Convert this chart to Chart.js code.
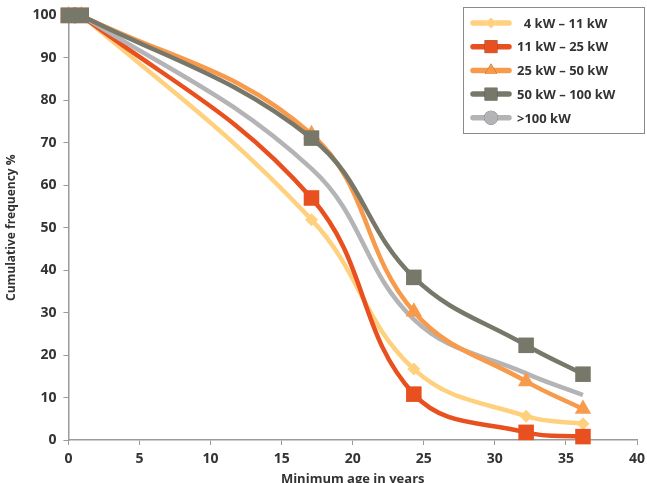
<!DOCTYPE html>
<html>
<head>
<meta charset="utf-8">
<script src="https://cdn.jsdelivr.net/npm/chart.js@4"></script>
<style>
  html, body { margin: 0; padding: 0; background: #fff; overflow: hidden; }
  #wrap { width: 650px; height: 486px; }
</style>
</head>
<body>
<div id="wrap"><canvas id="chart"></canvas></div>
<script>
const ages = [0, 0.9, 17.1, 24.3, 32.2, 36.2];
const seriesLabels = ['  4 kW – 11 kW', '11 kW – 25 kW', '25 kW – 50 kW', '50 kW – 100 kW', '>100 kW'];
const kw4to11 = [100, 100, 51.9, 16.7, 5.6, 3.8];
const kw11to25 = [100, 100, 57.0, 10.8, 1.8, 0.8];
const kw25to50 = [100, 100, 72.0, 30.2, 13.8, 7.3];
const kw50to100 = [100, 100, 71.1, 38.3, 22.3, 15.5];
const kwOver100 = [100, 100, 63.9, 28.4, 15.7, 10.6];
const xTicks = [0, 5, 10, 15, 20, 25, 30, 35, 40];
const yTicks = [0, 10, 20, 30, 40, 50, 60, 70, 80, 90, 100];

const colors = ['#ffd17f', '#e9501f', '#f89a4c', '#78786a', '#b4b4b7'];
const styles = ['rectRot', 'rect', 'triangle', 'rect', 'circle'];
const radii = [6.5, 11, 9.5, 11, 0];
const orders = [5, 4, 2, 1, 3];
const values = [kw4to11, kw11to25, kw25to50, kw50to100, kwOver100];

const datasets = values.map((vals, i) => ({
  label: seriesLabels[i],
  data: ages.map((a, j) => ({ x: a, y: vals[j] })),
  borderColor: colors[i],
  backgroundColor: colors[i],
  borderWidth: 4.5,
  pointStyle: styles[i],
  pointRadius: radii[i],
  pointBorderWidth: 0,
  pointHoverRadius: radii[i],
  tension: 0.4,
  order: orders[i],
  clip: false
}));

// legend drawn as a framed box with line + marker swatches
const boxLegend = {
  id: 'boxLegend',
  afterDraw(chart) {
    const ctx = chart.ctx;
    const left = 463, top = 7, w = 181, h = 126;
    ctx.save();
    ctx.fillStyle = '#fff';
    ctx.fillRect(left, top, w, h);
    ctx.strokeStyle = '#8a8a8a';
    ctx.lineWidth = 1;
    ctx.strokeRect(left + 0.5, top + 0.5, w, h);
    chart.data.datasets.forEach((ds, i) => {
      const y = 23 + i * 23.7;
      ctx.strokeStyle = ds.borderColor;
      ctx.lineWidth = 5.5;
      ctx.lineCap = 'round';
      ctx.beginPath();
      ctx.moveTo(473, y);
      ctx.lineTo(509, y);
      ctx.stroke();
      const r = [5.5, 9, 7, 9, 7][i];
      Chart.helpers.drawPoint(ctx, {
        pointStyle: ds.pointStyle, radius: r, borderWidth: 0, rotation: 0
      }, 491, y);
      ctx.fillStyle = ds.backgroundColor;
      ctx.fill();
      ctx.fillStyle = '#333';
      ctx.font = 'bold 13px "Open Sans"';
      ctx.textBaseline = 'middle';
      ctx.fillText(ds.label, 517, y + 1);
    });
    ctx.restore();
  }
};

new Chart(document.getElementById('chart'), {
  type: 'line',
  data: { datasets },
  options: {
    animation: false,
    responsive: true,
    maintainAspectRatio: false,
    layout: { padding: { top: 6, right: 0, left: 0, bottom: 0 } },
    plugins: {
      legend: { display: false },
      tooltip: { enabled: false }
    },
    scales: {
      x: {
        type: 'linear',
        min: 0, max: 40,
        afterBuildTicks: (axis) => { axis.ticks = xTicks.map(v => ({ value: v })); },
        afterFit: (axis) => { axis.paddingRight = 13; },
        grid: { drawOnChartArea: false, drawTicks: true, tickLength: 5, color: '#9a9a9a' },
        border: { color: '#9a9a9a', width: 1.5 },
        ticks: { color: '#333', font: { family: 'Open Sans', weight: 'bold', size: 14, lineHeight: 1 }, padding: 7, maxRotation: 0 },
        title: { display: true, text: 'Minimum age in years', color: '#333', font: { family: 'Open Sans', weight: 'bold', size: 13, lineHeight: 1 }, padding: { top: 0, bottom: 0 } }
      },
      y: {
        min: 0, max: 100,
        afterBuildTicks: (axis) => { axis.ticks = yTicks.map(v => ({ value: v })); },
        grid: { drawOnChartArea: false, drawTicks: true, tickLength: 5, color: '#9a9a9a' },
        border: { color: '#9a9a9a', width: 1.5 },
        ticks: { color: '#333', font: { family: 'Open Sans', weight: 'bold', size: 14 }, padding: 7 },
        title: { display: true, text: 'Cumulative frequency %', color: '#333', font: { family: 'Open Sans', weight: 'bold', size: 12 }, padding: { bottom: 7 } }
      }
    }
  },
  plugins: [boxLegend]
});
</script>
</body>
</html>
